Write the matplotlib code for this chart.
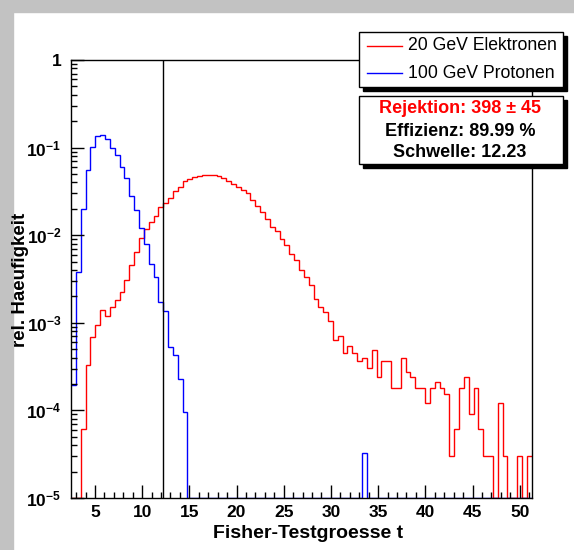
import numpy as np
import matplotlib
matplotlib.use('Agg')
import matplotlib.pyplot as plt
from matplotlib.ticker import MultipleLocator, LogLocator, NullFormatter
from matplotlib.patches import Rectangle
from matplotlib.lines import Line2D

## Histogram binning (95 bins between the smallest and largest t).
t_min   = 2.47
t_width = 0.5137
n_bins  = 95
threshold = 12.23

## Relative frequencies, 20 GeV electrons (bins 0..94).
elektronen = [
    0, 0, 6.1e-5, 3.3e-4, 6.95e-4, 9.45e-4, 1.40e-3, 1.20e-3, 1.53e-3, 1.82e-3,
    2.25e-3, 3.08e-3, 4.57e-3, 6.45e-3, 9.3e-3, 0.0118, 0.01426, 0.01656, 0.0211, 0.0235,
    0.0268, 0.0320, 0.0358, 0.0419, 0.0438, 0.0466, 0.0478, 0.0487, 0.0491, 0.0483,
    0.0474, 0.0446, 0.0419, 0.0384, 0.0352, 0.0328, 0.0301, 0.0252, 0.0215, 0.0185,
    0.0152, 0.0125, 0.01125, 8.97e-3, 7.73e-3, 6.05e-3, 5.21e-3, 4.0e-3, 3.3e-3, 2.7e-3,
    1.85e-3, 1.53e-3, 1.34e-3, 1.05e-3, 6.37e-4, 7.0e-4, 4.55e-4, 5.45e-4, 4.55e-4, 3.64e-4,
    3.94e-4, 3.03e-4, 4.85e-4, 2.42e-4, 3.64e-4, 3.64e-4, 1.82e-4, 1.82e-4, 3.94e-4, 2.73e-4,
    2.42e-4, 1.82e-4, 1.82e-4, 1.21e-4, 1.82e-4, 2.12e-4, 1.82e-4, 1.52e-4, 3.03e-5, 6.06e-5,
    1.82e-4, 2.42e-4, 9.1e-5, 1.82e-4, 6.06e-5, 3.03e-5, 3.03e-5, 0, 1.21e-4, 3.03e-5,
    0, 0, 3.03e-5, 0, 3.03e-5,
]

## Relative frequencies, 100 GeV protons (bins 0..94).
protonen = [
    1.95e-4, 3.83e-3, 0.0198, 0.0555, 0.101, 0.135, 0.140, 0.125, 0.100, 0.082,
    0.060, 0.045, 0.028, 0.0194, 0.0122, 0.0079, 4.7e-3, 3.36e-3, 1.74e-3, 1.38e-3,
    5.27e-4, 4.3e-4, 2.26e-4, 9.66e-5,
] + [0] * 36 + [3.24e-5] + [0] * 34

labels = ['20 GeV Elektronen', '100 GeV Protonen']
stats  = ['Rejektion: 398 \u00b1 45', 'Effizienz: 89.99 %', 'Schwelle: 12.23']

y_min, y_max = 1e-5, 1.0

plt.rcParams['font.family'] = ['Liberation Sans', 'DejaVu Sans']
plt.rcParams['mathtext.fontset'] = 'custom'
plt.rcParams['mathtext.rm'] = 'Liberation Sans:bold'
plt.rcParams['mathtext.it'] = 'Liberation Sans:bold'
plt.rcParams['mathtext.bf'] = 'Liberation Sans:bold'
plt.rcParams['mathtext.default'] = 'rm'

W, H = 574, 550
def fx(p): return p / W
def fy(p): return 1 - p / H

fig = plt.figure(figsize=(W / 100, H / 100), dpi=100)
fig.patch.set_facecolor('white')

## Grey canvas border (left and top).
fig.patches.append(Rectangle((0, 0), fx(13), 1, transform=fig.transFigure, color='#c2c2c2', zorder=-5))
fig.patches.append(Rectangle((0, fy(12)), 1, 1 - fy(12), transform=fig.transFigure, color='#c2c2c2', zorder=-5))

ax = fig.add_axes([fx(71.1), fy(498), fx(531.7) - fx(71.1), fy(60) - fy(498)])
ax.patch.set_alpha(0)

edges = t_min + t_width * np.arange(n_bins + 1)
e_vals = np.clip(np.array(elektronen, dtype=float), y_min, None)
p_vals = np.clip(np.array(protonen, dtype=float), y_min, None)

ax.stairs(e_vals, edges, baseline=None, color='#ff0000', lw=1.0)
ax.stairs(p_vals, edges, baseline=None, color='#0000ff', lw=1.0)
ax.axvline(threshold, color='black', lw=1.0)

ax.set_yscale('log')
ax.set_xlim(edges[0], edges[-1])
ax.set_ylim(y_min, y_max)

ax.xaxis.set_major_locator(MultipleLocator(5))
ax.xaxis.set_minor_locator(MultipleLocator(1))
ax.set_yticks([1e-5, 1e-4, 1e-3, 1e-2, 1e-1, 1])
ax.set_yticklabels([r'$10^{-5}$', r'$10^{-4}$', r'$10^{-3}$', r'$10^{-2}$', r'$10^{-1}$', '1'])
ax.yaxis.set_minor_locator(LogLocator(base=10, subs=range(2, 10), numticks=20))
ax.yaxis.set_minor_formatter(NullFormatter())

ax.tick_params(which='both', direction='in', top=False, right=False, width=1.0)
ax.tick_params(which='major', length=9.5)
ax.tick_params(which='minor', length=4.3)
ax.tick_params(axis='x', pad=5)
ax.tick_params(axis='y', pad=7)
for lab in ax.get_xticklabels() + ax.get_yticklabels():
    lab.set_fontsize(12.5)
    lab.set_fontweight('bold')
for s in ax.spines.values():
    s.set_linewidth(1.0)

fig.text(fx(308), fy(534), 'Fisher-Testgroesse t', ha='center', va='center', fontsize=14, fontweight='bold')
fig.text(fx(21), fy(280), 'rel. Haeufigkeit', ha='center', va='center', rotation=90, fontsize=13.5, fontweight='bold')

## Legend box with shadow.
def box(x0, y0, x1, y1):
    fig.patches.append(Rectangle((fx(x0 + 4), fy(y1 + 4)), fx(x1) - fx(x0), fy(y0) - fy(y1),
                                 transform=fig.transFigure, color='black', zorder=5))
    fig.patches.append(Rectangle((fx(x0), fy(y1)), fx(x1) - fx(x0), fy(y0) - fy(y1),
                                 transform=fig.transFigure, facecolor='white', edgecolor='black', lw=1.0, zorder=6))

box(359.3, 32.3, 563, 86.7)
for yy, col, lab in zip([45.7, 73.3], ['#ff0000', '#0000ff'], labels):
    fig.lines.append(Line2D([fx(367), fx(401.7)], [fy(yy), fy(yy)], transform=fig.transFigure, color=col, lw=1.0, zorder=7))
    fig.text(fx(408.3), fy(yy), lab, ha='left', va='center', fontsize=12.7, zorder=7)

box(359.3, 95.7, 563, 164)
for yy, col, lab in zip([108.3, 131, 152.7], ['#ff0000', 'black', 'black'], stats):
    fig.text(fx(460), fy(yy), lab, ha='center', va='center', fontsize=13, fontweight='bold', color=col, zorder=7)

fig.savefig('out.png', dpi=100)
